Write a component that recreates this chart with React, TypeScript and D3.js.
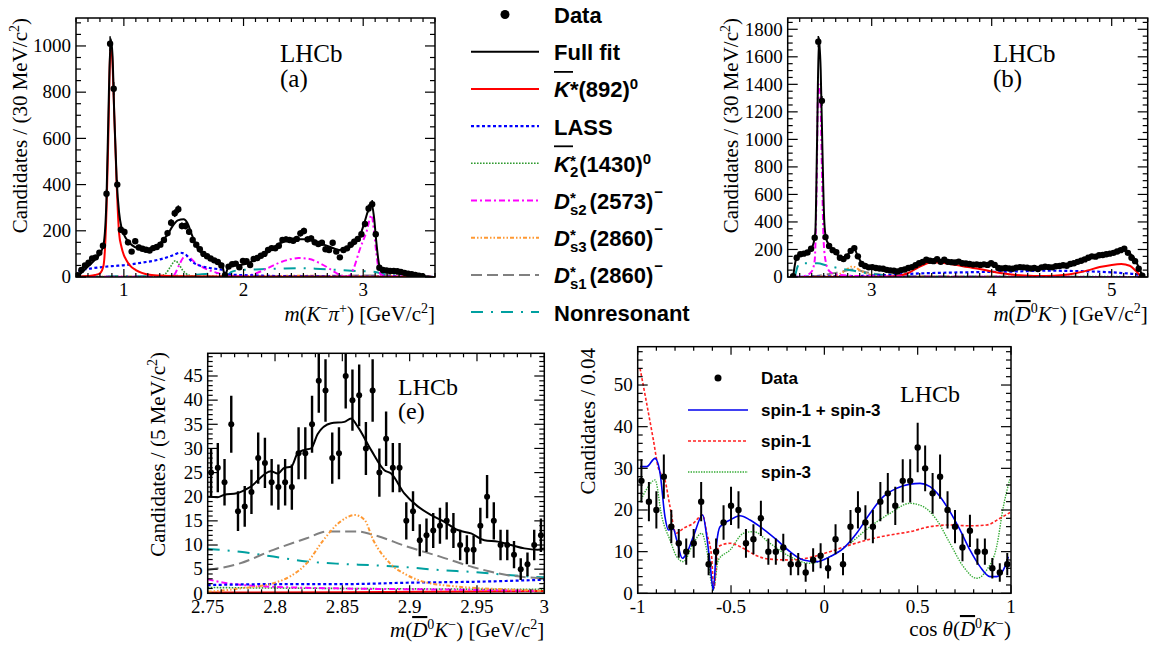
import React from "react";
import * as d3 from "d3";

type Pt = [number, number];
type Scale = d3.ScaleLinear<number, number>;

// ================= Panel (a): m(K- pi+) =================
const aBinLo = 0.6;
const aBinWidth = 0.03;
const aCounts = [
  8, 30, 50, 62, 80, 85, 105, 135, 360, 1010,
  815, 400, 205, 195, 150, 110, 155, 128, 122, 118,
  115, 125, 130, 140, 160, 190, 235, 276, 293, 221,
  221, 196, 160, 140, 120, 100, 90, 80, 72, 65,
  50, 8, 45, 55, 58, 42, 70, 68, 52, 78,
  82, 92, 100, 117, 125, 124, 135, 160, 163, 160,
  157, 165, 189, 199, 163, 167, 150, 143, 148, 120,
  117, 148, 110, 85, 117, 124, 140, 153, 165, 185,
  230, 297, 315, 185, 40, 30, 28, 26, 26, 25,
  22, 18, 14, 12, 9, 6, 4,
];
const aFit: Pt[] = [
  [0.61, 0], [0.65, 20], [0.7, 45], [0.75, 70], [0.8, 100], [0.83, 140], [0.855, 340], [0.875, 800],
  [0.89, 1030], [0.905, 960], [0.92, 700], [0.94, 420], [0.96, 280], [0.98, 215], [1.0, 185], [1.03, 158],
  [1.07, 137], [1.12, 124], [1.19, 120], [1.25, 130], [1.3, 145], [1.36, 180], [1.41, 222], [1.45, 245],
  [1.5, 250], [1.53, 235], [1.57, 180], [1.62, 120], [1.67, 95], [1.72, 80], [1.78, 68], [1.82, 55],
  [1.845, 5], [1.87, 40], [1.9, 48], [1.97, 52], [2.05, 62], [2.1, 78], [2.19, 102], [2.3, 145],
  [2.38, 160], [2.45, 163], [2.53, 163], [2.6, 153], [2.67, 140], [2.72, 131], [2.8, 117], [2.86, 122],
  [2.92, 140], [2.97, 175], [3.01, 235], [3.05, 300], [3.07, 318], [3.09, 260], [3.11, 150], [3.135, 50],
  [3.16, 32], [3.2, 27], [3.3, 23], [3.38, 17], [3.45, 8], [3.52, 3], [3.58, 0],
];
const aKst: Pt[] = [
  [0.62, 1], [0.7, 4], [0.76, 9], [0.8, 16], [0.83, 50], [0.855, 290], [0.87, 600], [0.885, 960],
  [0.895, 1000], [0.905, 920], [0.92, 700], [0.94, 400], [0.96, 190], [0.98, 130], [1.0, 95], [1.02, 74],
  [1.05, 50], [1.1, 30], [1.15, 18], [1.2, 11], [1.3, 6], [1.45, 3], [1.8, 2], [2.4, 1], [3.6, 0.5],
];
const aLass: Pt[] = [
  [0.61, 0], [0.63, 28], [0.7, 35], [0.8, 42], [0.9, 47], [1.02, 52], [1.15, 62], [1.3, 76],
  [1.4, 92], [1.47, 105], [1.51, 100], [1.57, 66], [1.62, 52], [1.66, 45], [1.73, 38], [1.8, 33],
  [1.83, 30], [1.85, 12], [1.9, 10], [2.0, 8], [2.2, 5], [2.5, 3], [3.0, 2], [3.58, 1],
];
const aK2: Pt[] = [
  [0.6, 0.5], [1.2, 1], [1.3, 3], [1.35, 15], [1.39, 45], [1.43, 70], [1.46, 55], [1.49, 30],
  [1.52, 15], [1.57, 5], [1.65, 2], [2.0, 1], [3.58, 0.5],
];
const aDs2: Pt[] = [
  [0.6, 0.5], [1.35, 1], [1.42, 10], [1.46, 50], [1.5, 85], [1.53, 90], [1.57, 75], [1.6, 60],
  [1.66, 42], [1.72, 28], [1.78, 18], [1.84, 8], [1.9, 4], [2.0, 3], [2.1, 15], [2.2, 38],
  [2.3, 62], [2.4, 78], [2.46, 82], [2.55, 78], [2.62, 64], [2.7, 42], [2.76, 22], [2.82, 6],
  [2.88, 3], [2.92, 37], [2.97, 117], [3.03, 200], [3.07, 268], [3.09, 200], [3.11, 103], [3.125, 45],
  [3.15, 10], [3.2, 4], [3.3, 2], [3.58, 0.5],
];
const aDs3: Pt[] = [[0.6, 1], [1.5, 3], [2.0, 4], [2.5, 5], [3.0, 4], [3.3, 6], [3.58, 2]];
const aDs1: Pt[] = [[0.6, 1], [1.5, 2], [2.5, 4], [3.2, 8], [3.35, 14], [3.45, 6], [3.58, 1]];
const aNr: Pt[] = [
  [0.6, 2], [1.0, 3], [1.5, 6], [1.65, 12], [1.75, 16], [1.84, 18], [1.86, 8], [1.9, 22],
  [1.97, 30], [2.1, 33], [2.3, 36], [2.45, 38], [2.6, 36], [2.75, 32], [2.9, 27], [3.0, 25],
  [3.1, 22], [3.2, 10], [3.35, 5], [3.58, 2],
];

// ================= Panel (b): m(D0bar K-) =================
const bBinLo = 2.3;
const bBinWidth = 0.03;
const bCounts = [
  0, 5, 140, 165, 170, 178, 205, 285, 1710, 1280,
  290, 225, 195, 180, 140, 130, 150, 190, 210, 150,
  95, 80, 70, 72, 65, 62, 60, 52, 48, 45,
  40, 50, 55, 65, 72, 85, 100, 110, 125, 118,
  115, 130, 110, 125, 110, 108, 105, 112, 100, 98,
  95, 90, 92, 88, 92, 88, 100, 88, 65, 62,
  65, 62, 60, 68, 72, 70, 68, 62, 65, 58,
  70, 75, 72, 70, 78, 80, 85, 82, 95, 100,
  110, 118, 128, 140, 150, 148, 158, 160, 165, 170,
  175, 185, 195, 205, 175, 140, 115, 60, 10,
];
const bFit: Pt[] = [
  [2.345, 0], [2.37, 130], [2.4, 165], [2.45, 178], [2.5, 210], [2.53, 320], [2.545, 1000], [2.56, 1740],
  [2.575, 1500], [2.59, 900], [2.605, 400], [2.62, 280], [2.65, 225], [2.7, 180], [2.74, 140], [2.78, 145],
  [2.82, 185], [2.85, 215], [2.88, 160], [2.92, 100], [2.97, 80], [3.05, 68], [3.15, 52], [3.22, 45],
  [3.3, 65], [3.4, 105], [3.48, 125], [3.55, 120], [3.7, 110], [3.85, 95], [4.0, 95], [4.03, 85],
  [4.07, 65], [4.2, 65], [4.4, 67], [4.55, 78], [4.7, 105], [4.85, 145], [5.0, 172], [5.1, 200],
  [5.14, 180], [5.2, 120], [5.24, 40], [5.27, 0],
];
const bDs2: Pt[] = [
  [2.36, 0], [2.45, 10], [2.5, 40], [2.525, 120], [2.54, 600], [2.555, 1400], [2.57, 1350], [2.585, 800],
  [2.6, 250], [2.62, 100], [2.65, 40], [2.7, 20], [2.8, 10], [3.0, 5], [3.5, 2], [5.27, 0],
];
const bNr: Pt[] = [
  [2.36, 0], [2.38, 70], [2.4, 100], [2.45, 100], [2.55, 100], [2.62, 85], [2.68, 73], [2.76, 58],
  [2.84, 48], [2.9, 36], [3.0, 22], [3.1, 12], [3.2, 6], [3.4, 3], [4.0, 2], [5.27, 0],
];
const bDs3: Pt[] = [
  [2.36, 0], [2.6, 3], [2.7, 10], [2.76, 35], [2.8, 60], [2.83, 75], [2.86, 72], [2.9, 50],
  [2.95, 28], [3.0, 15], [3.1, 8], [3.3, 4], [4.0, 2], [5.27, 0],
];
const bDs1: Pt[] = [
  [2.36, 0], [2.5, 5], [2.6, 15], [2.7, 30], [2.78, 45], [2.84, 55], [2.88, 50], [2.95, 35],
  [3.05, 20], [3.2, 10], [3.5, 5], [4.0, 3], [5.27, 0],
];
const bKst: Pt[] = [
  [2.36, 0], [3.0, 1], [3.2, 5], [3.3, 27], [3.4, 75], [3.5, 108], [3.6, 102], [3.7, 88],
  [3.8, 72], [3.9, 58], [4.0, 40], [4.1, 25], [4.2, 15], [4.35, 8], [4.45, 7], [4.6, 15],
  [4.7, 28], [4.8, 48], [4.9, 72], [5.0, 88], [5.08, 94], [5.15, 82], [5.2, 45], [5.24, 10], [5.27, 0],
];
const bLass: Pt[] = [
  [2.36, 0], [2.5, 3], [2.8, 5], [3.0, 10], [3.2, 18], [3.4, 26], [3.6, 31], [3.9, 36],
  [4.2, 40], [4.45, 46], [4.7, 43], [4.9, 38], [5.1, 28], [5.2, 20], [5.27, 0],
];
const bK2: Pt[] = [[2.36, 0], [3.0, 2], [4.0, 4], [5.0, 3], [5.27, 0]];

// ================= Panel (e): zoom 2.75-3.0 =================
const eBinLo = 2.75;
const eBinWidth = 0.005;
const eCounts = [
  25, 26, 23, 35, 17, 18, 21, 28, 27, 23,
  22, 23, 22, 29, 29, 35, 44, 42, 28, 29,
  45, 40, 41, 30, 42, 25, 32, 26, 26, 15,
  17, 11, 12, 13, 14, 15, 13, 10, 9, 9,
  14, 20, 15, 10, 10, 8, 5, 6, 10, 12,
];
const eFit: Pt[] = [
  [2.7503, 20], [2.7574, 19.9], [2.7624, 20.4], [2.7715, 20.7], [2.7814, 22], [2.797, 25.3], [2.802, 24.8],
  [2.807, 26], [2.812, 26.2], [2.8168, 29], [2.8218, 29.7], [2.8268, 30], [2.8317, 33], [2.8416, 35.2],
  [2.8515, 35.5], [2.8565, 36.2], [2.8614, 34.5], [2.8713, 29.7], [2.8812, 25.5], [2.8862, 24.8],
  [2.896, 20.7], [2.906, 18], [2.916, 16.2], [2.9258, 14.8], [2.9357, 13.1], [2.9456, 12.4], [2.9555, 11],
  [2.9654, 10.7], [2.9753, 10], [2.9852, 9.3], [2.995, 9], [2.9997, 9.3],
];
const eDs1: Pt[] = [
  [2.75, 4.8], [2.774, 6.2], [2.7988, 9], [2.8235, 11.4], [2.8384, 12.8], [2.8607, 12.8], [2.873, 12.1],
  [2.8978, 9.7], [2.9226, 7.6], [2.9473, 5.4], [2.9721, 3.8], [3.0, 3.1],
];
const eDs3: Pt[] = [
  [2.75, 0.3], [2.774, 1.0], [2.7988, 2.1], [2.8112, 3.5], [2.8235, 6.2], [2.8359, 11], [2.8483, 14.8],
  [2.8594, 16.2], [2.8665, 15.2], [2.873, 11], [2.8854, 6.2], [2.8978, 3.8], [2.9102, 2.4], [2.935, 1.4],
  [2.9721, 0.8], [3.0, 0.5],
];
const eNr: Pt[] = [
  [2.75, 9.2], [2.774, 8.6], [2.7988, 7.6], [2.8235, 6.6], [2.8483, 6.1], [2.873, 5.8], [2.8978, 5.4],
  [2.9226, 4.8], [2.9473, 4.4], [2.9721, 3.8], [3.0, 3.3],
];
const eLass: Pt[] = [[2.75, 1.7], [2.8, 1.9], [2.85, 1.9], [2.9, 2.2], [2.95, 2.4], [3.0, 2.8]];
const eDs2: Pt[] = [[2.75, 2.9], [2.762, 2.2], [2.787, 1.5], [2.85, 1.0], [2.92, 0.8], [3.0, 0.5]];
const eK2: Pt[] = [[2.75, 1.2], [2.85, 1.0], [3.0, 0.8]];
const eKst: Pt[] = [[2.75, 0.15], [2.85, 0.2], [3.0, 0.5]];

// ================= Panel (d): cos theta =================
const dBinLo = -1;
const dBinWidth = 0.04;
const dCounts = [
  27, 22, 20, 28, 16, 12, 10, 12, 22, 7,
  10, 17, 21, 20, 12, 13, 18, 10, 10, 11,
  7, 7, 5, 8, 9, 6, 13, 7, 16, 20,
  17, 16, 22, 24, 21, 27, 27, 35, 30, 24,
  28, 20, 16, 11, 15, 10, 10, 6, 5, 7,
];
const dBoth: Pt[] = [
  [-0.9875, 30.4], [-0.952, 30.4], [-0.907, 32.4], [-0.88, 28.8], [-0.854, 18.4], [-0.836, 15.2],
  [-0.809, 15.4], [-0.791, 12.8], [-0.761, 8.4], [-0.7375, 9.6], [-0.702, 13.6], [-0.652, 18.8],
  [-0.63, 13.6], [-0.6125, 7.2], [-0.595, 0.8], [-0.577, 12], [-0.559, 16], [-0.505, 17.6],
  [-0.452, 18.6], [-0.398, 17.6], [-0.327, 15.4], [-0.255, 12.8], [-0.184, 10], [-0.1125, 8],
  [-0.041, 7.6], [0.03, 8.8], [0.102, 10.8], [0.173, 14.4], [0.245, 19.2], [0.316, 23.2],
  [0.3875, 25.2], [0.459, 26.2], [0.5125, 26.4], [0.566, 25.6], [0.62, 23.2], [0.673, 19.6],
  [0.727, 15.2], [0.78, 10.4], [0.834, 6.4], [0.8875, 4.0], [0.923, 4.0], [0.959, 5.6], [0.986, 8.8],
];
const dSpin1: Pt[] = [
  [-0.9875, 54], [-0.952, 45.6], [-0.916, 36.8], [-0.889, 30], [-0.854, 27.2], [-0.827, 20.8],
  [-0.795, 14.4], [-0.755, 15.6], [-0.702, 16.8], [-0.652, 18.8], [-0.63, 14.4], [-0.604, 8.8],
  [-0.5925, 1.2], [-0.568, 11.2], [-0.505, 12], [-0.434, 10.8], [-0.3625, 9], [-0.291, 8.2],
  [-0.184, 8], [-0.077, 8.6], [0.03, 10], [0.1375, 11.6], [0.245, 13], [0.352, 14], [0.459, 14.8],
  [0.566, 16], [0.673, 16.4], [0.78, 16.2], [0.87, 16.4], [0.941, 18], [0.995, 19.4],
];
const dSpin3: Pt[] = [
  [-0.9875, 22], [-0.952, 25], [-0.907, 27.2], [-0.871, 18.4], [-0.827, 12.8], [-0.791, 8.8],
  [-0.755, 7.6], [-0.702, 12], [-0.657, 14.4], [-0.63, 10.4], [-0.595, 0.8], [-0.568, 8],
  [-0.505, 10.4], [-0.434, 14.4], [-0.38, 14.8], [-0.291, 12], [-0.184, 8.8], [-0.077, 7.2],
  [0.03, 8.8], [0.1375, 12], [0.245, 16], [0.352, 19.2], [0.459, 21.6], [0.53, 20.8], [0.602, 17.6],
  [0.673, 12], [0.745, 6.4], [0.816, 3.6], [0.87, 5.6], [0.923, 11.2], [0.959, 20.8], [0.995, 27.6],
];

// ================= styles =================
const SERIF = '"Liberation Serif","Times New Roman",Times,serif';
const SANS = '"Liberation Sans",Arial,Helvetica,sans-serif';

type Sty = { c: string; w: number; d?: string };
const STY: Record<string, Sty> = {
  full: { c: "#000000", w: 2 },
  kst: { c: "#ff0000", w: 2 },
  lass: { c: "#0000ff", w: 2.2, d: "3 2.5" },
  k2: { c: "#2f9a2f", w: 1.6, d: "1.6 1.4" },
  ds2: { c: "#ff00ff", w: 2, d: "6 3 2 3" },
  ds3: { c: "#ff9933", w: 2, d: "4 2 1.5 2 1.5 2" },
  ds1: { c: "#808080", w: 2, d: "11 5" },
  nr: { c: "#00a0a0", w: 2, d: "12 8 2 8" },
  both: { c: "#0000ee", w: 1.6 },
  spin1: { c: "#ff2222", w: 1.6, d: "3 2" },
  spin3: { c: "#33aa33", w: 1.4, d: "1.4 1.2" },
};

const stepTicks = (lo: number, hi: number, step: number) => {
  const i0 = Math.ceil(lo / step - 1e-6);
  const i1 = Math.floor(hi / step + 1e-6);
  return d3.range(i0, i1 + 1).map((i) => +(i * step).toFixed(6));
};

const binCenters = (lo: number, w: number, n: number) => d3.range(n).map((i) => lo + w * (i + 0.5));

function Curve({ pts, x, y, s }: { pts: Pt[]; x: Scale; y: Scale; s: Sty }) {
  const line = d3
    .line<Pt>()
    .x((d) => x(d[0]))
    .y((d) => y(d[1]))
    .curve(d3.curveMonotoneX);
  return (
    <path d={line(pts) || ""} fill="none" stroke={s.c} strokeWidth={s.w} strokeDasharray={s.d} strokeLinejoin="round" />
  );
}

function DataPts({
  xs, ys, x, y, r, ew,
}: { xs: number[]; ys: number[]; x: Scale; y: Scale; r: number; ew: number }) {
  return (
    <g>
      {ys.map((v, i) =>
        v <= 0 ? null : (
          <g key={i}>
            <line x1={x(xs[i])} x2={x(xs[i])} y1={y(v + Math.sqrt(v))} y2={y(Math.max(0, v - Math.sqrt(v)))} stroke="#000" strokeWidth={ew} />
            <circle cx={x(xs[i])} cy={y(v)} r={r} fill="#000" />
          </g>
        )
      )}
    </g>
  );
}

type PanelProps = {
  id: string;
  L: number; T: number; R: number; B: number;
  xd: [number, number]; yd: [number, number];
  xLab: number[]; xMinStep: number; yLab: number[]; yMinStep: number;
  labBase: number;
  render: (x: Scale, y: Scale) => React.ReactNode;
};

function Panel(p: PanelProps) {
  const x = d3.scaleLinear().domain(p.xd).range([p.L, p.R]);
  const y = d3.scaleLinear().domain(p.yd).range([p.B, p.T]);
  const xMin = stepTicks(p.xd[0], p.xd[1], p.xMinStep);
  const yMin = stepTicks(p.yd[0], p.yd[1], p.yMinStep);
  const isMaj = (arr: number[], v: number) => arr.some((a) => Math.abs(a - v) < 1e-6);
  return (
    <g>
      <defs>
        <clipPath id={p.id}>
          <rect x={p.L} y={p.T} width={p.R - p.L} height={p.B - p.T} />
        </clipPath>
      </defs>
      <g clipPath={`url(#${p.id})`}>{p.render(x, y)}</g>
      <rect x={p.L} y={p.T} width={p.R - p.L} height={p.B - p.T} fill="none" stroke="#000" strokeWidth={1.5} />
      {xMin.map((v, i) => {
        const len = isMaj(p.xLab, v) ? 8 : 4;
        return (
          <g key={"xt" + i}>
            <line x1={x(v)} x2={x(v)} y1={p.B} y2={p.B - len} stroke="#000" strokeWidth={1.2} />
            <line x1={x(v)} x2={x(v)} y1={p.T} y2={p.T + len} stroke="#000" strokeWidth={1.2} />
          </g>
        );
      })}
      {yMin.map((v, i) => {
        const len = isMaj(p.yLab, v) ? 10 : 5;
        return (
          <g key={"yt" + i}>
            <line x1={p.L} x2={p.L + len} y1={y(v)} y2={y(v)} stroke="#000" strokeWidth={1.2} />
            <line x1={p.R} x2={p.R - len} y1={y(v)} y2={y(v)} stroke="#000" strokeWidth={1.2} />
          </g>
        );
      })}
      {p.xLab.map((v, i) => (
        <text key={"xl" + i} x={x(v)} y={p.B + p.labBase} textAnchor="middle" fontFamily={SERIF} fontSize={19}>
          {String(v)}
        </text>
      ))}
      {p.yLab.map((v, i) => (
        <text key={"yl" + i} x={p.L - 5} y={y(v)} dy="0.33em" textAnchor="end" fontFamily={SERIF} fontSize={19}>
          {String(v)}
        </text>
      ))}
    </g>
  );
}

function DKTitle({ x, y }: { x: number; y: number }) {
  return (
    <text x={x} y={y} textAnchor="end" fontFamily={SERIF} fontSize={21}>
      <tspan fontStyle="italic">m</tspan>
      <tspan>(</tspan>
      <tspan fontStyle="italic" style={{ textDecoration: "overline" }}>D</tspan>
      <tspan dy={-8} fontSize={14}>0</tspan>
      <tspan dy={8} fontStyle="italic">K</tspan>
      <tspan dy={-8} fontSize={14}>−</tspan>
      <tspan dy={8}>) [GeV/c</tspan>
      <tspan dy={-8} fontSize={14}>2</tspan>
      <tspan dy={8}>]</tspan>
    </text>
  );
}

function YTitle({ x, y, mev }: { x: number; y: number; mev: string }) {
  return (
    <text transform={`translate(${x},${y}) rotate(-90)`} textAnchor="end" fontFamily={SERIF} fontSize={21}>
      <tspan>{`Candidates / (${mev} MeV/c`}</tspan>
      <tspan dy={-8} fontSize={14}>2</tspan>
      <tspan dy={8}>)</tspan>
    </text>
  );
}

function LegendLine({ x1, x2, y, s }: { x1: number; x2: number; y: number; s: Sty }) {
  return <line x1={x1} x2={x2} y1={y} y2={y} stroke={s.c} strokeWidth={s.w} strokeDasharray={s.d} />;
}

function MainLegend() {
  const lx1 = 471, lx2 = 539, tx = 554;
  const rowY = (i: number) => 14.5 + 37.2 * i;
  const base = (i: number) => rowY(i) + 8.5;
  const fs = 22;
  const tp = { fontFamily: SANS, fontWeight: "bold" as const, fontSize: fs };
  const dRow = (i: number, sub: string, s: Sty, mass: string) => (
    <g key={"dr" + i}>
      <LegendLine x1={lx1} x2={lx2} y={rowY(i)} s={s} />
      <text x={tx} y={base(i)} {...tp}>
        <tspan fontStyle="italic">D</tspan>
        <tspan dy={-6} fontSize={15}>*</tspan>
        <tspan dx={-5.8} dy={12} fontSize={15}>{sub}</tspan>
        <tspan dx={3} dy={-6}>{mass}</tspan>
        <tspan dx={1} dy={-12} fontSize={15}>−</tspan>
      </text>
    </g>
  );
  return (
    <g>
      <circle cx={505} cy={rowY(0)} r={4.5} fill="#000" />
      <text x={tx} y={base(0)} {...tp}>Data</text>

      <LegendLine x1={lx1} x2={lx2} y={rowY(1)} s={STY.full} />
      <text x={tx} y={base(1)} {...tp}>Full fit</text>

      <LegendLine x1={lx1} x2={lx2} y={rowY(2)} s={STY.kst} />
      <line x1={tx} x2={tx + 19} y1={rowY(2) - 17} y2={rowY(2) - 17} stroke="#000" strokeWidth={1.8} />
      <text x={tx} y={base(2)} {...tp}>
        <tspan fontStyle="italic">K</tspan>
        <tspan>*(892)</tspan>
        <tspan dy={-8} fontSize={15}>0</tspan>
      </text>

      <LegendLine x1={lx1} x2={lx2} y={rowY(3)} s={STY.lass} />
      <text x={tx} y={base(3)} {...tp}>LASS</text>

      <LegendLine x1={lx1} x2={lx2} y={rowY(4)} s={STY.k2} />
      <line x1={tx} x2={tx + 19} y1={rowY(4) - 17} y2={rowY(4) - 17} stroke="#000" strokeWidth={1.8} />
      <text x={tx} y={base(4)} {...tp}>
        <tspan fontStyle="italic">K</tspan>
        <tspan dy={-6} fontSize={15}>*</tspan>
        <tspan dx={-5.8} dy={11} fontSize={15}>2</tspan>
        <tspan dx={1} dy={-5}>(1430)</tspan>
        <tspan dy={-8} fontSize={15}>0</tspan>
      </text>

      {dRow(5, "s2", STY.ds2, "(2573)")}
      {dRow(6, "s3", STY.ds3, "(2860)")}
      {dRow(7, "s1", STY.ds1, "(2860)")}

      <LegendLine x1={lx1} x2={lx2} y={rowY(8)} s={STY.nr} />
      <text x={tx} y={base(8)} {...tp}>Nonresonant</text>
    </g>
  );
}

function CosLegend() {
  const tp = { fontFamily: SANS, fontWeight: "bold" as const, fontSize: 17 };
  return (
    <g>
      <circle cx={718} cy={378} r={3.5} fill="#000" />
      <text x={761} y={384} {...tp}>Data</text>
      <LegendLine x1={688} x2={748} y={410} s={STY.both} />
      <text x={761} y={416} {...tp}>spin-1 + spin-3</text>
      <LegendLine x1={688} x2={748} y={441} s={STY.spin1} />
      <text x={761} y={447} {...tp}>spin-1</text>
      <LegendLine x1={688} x2={748} y={472} s={STY.spin3} />
      <text x={761} y={478} {...tp}>spin-3</text>
    </g>
  );
}

export default function App() {
  const aX = binCenters(aBinLo, aBinWidth, aCounts.length);
  const bX = binCenters(bBinLo, bBinWidth, bCounts.length);
  const eX = binCenters(eBinLo, eBinWidth, eCounts.length);
  const dX = binCenters(dBinLo, dBinWidth, dCounts.length);
  return (
    <svg width={1163} height={646} style={{ position: "fixed", left: 0, top: 0, background: "#fff" }}>
      <rect x={0} y={0} width={1163} height={646} fill="#fff" />

      {/* (a) */}
      <Panel
        id="clipA" L={76} T={18} R={435} B={277}
        xd={[0.6, 3.6]} yd={[0, 1121]}
        xLab={[1, 2, 3]} xMinStep={0.1} yLab={stepTicks(0, 1000, 200)} yMinStep={50} labBase={19}
        render={(x, y) => (
          <g>
            <Curve pts={aDs3} x={x} y={y} s={STY.ds3} />
            <Curve pts={aDs1} x={x} y={y} s={STY.ds1} />
            <Curve pts={aNr} x={x} y={y} s={STY.nr} />
            <Curve pts={aK2} x={x} y={y} s={STY.k2} />
            <Curve pts={aDs2} x={x} y={y} s={STY.ds2} />
            <Curve pts={aLass} x={x} y={y} s={STY.lass} />
            <Curve pts={aKst} x={x} y={y} s={STY.kst} />
            <Curve pts={aFit} x={x} y={y} s={STY.full} />
            <DataPts xs={aX} ys={aCounts} x={x} y={y} r={3.2} ew={1.5} />
          </g>
        )}
      />
      <YTitle x={27} y={18} mev="30" />
      <text x={435} y={321} textAnchor="end" fontFamily={SERIF} fontSize={21}>
        <tspan fontStyle="italic">m</tspan>
        <tspan>(</tspan>
        <tspan fontStyle="italic">K</tspan>
        <tspan dy={-8} fontSize={14}>−</tspan>
        <tspan dy={8} fontStyle="italic">π</tspan>
        <tspan dy={-8} fontSize={14}>+</tspan>
        <tspan dy={8}>) [GeV/c</tspan>
        <tspan dy={-8} fontSize={14}>2</tspan>
        <tspan dy={8}>]</tspan>
      </text>
      <text x={280} y={62} fontFamily={SERIF} fontSize={25}>LHCb</text>
      <text x={280} y={87} fontFamily={SERIF} fontSize={25}>(a)</text>

      {/* legend */}
      <MainLegend />

      {/* (b) */}
      <Panel
        id="clipB" L={787.7} T={18} R={1147.7} B={277}
        xd={[2.3, 5.3]} yd={[0, 1882]}
        xLab={[3, 4, 5]} xMinStep={0.1} yLab={stepTicks(0, 1800, 200)} yMinStep={50} labBase={19}
        render={(x, y) => (
          <g>
            <Curve pts={bK2} x={x} y={y} s={STY.k2} />
            <Curve pts={bDs1} x={x} y={y} s={STY.ds1} />
            <Curve pts={bDs3} x={x} y={y} s={STY.ds3} />
            <Curve pts={bNr} x={x} y={y} s={STY.nr} />
            <Curve pts={bLass} x={x} y={y} s={STY.lass} />
            <Curve pts={bKst} x={x} y={y} s={STY.kst} />
            <Curve pts={bDs2} x={x} y={y} s={STY.ds2} />
            <Curve pts={bFit} x={x} y={y} s={STY.full} />
            <DataPts xs={bX} ys={bCounts} x={x} y={y} r={3.2} ew={1.5} />
          </g>
        )}
      />
      <YTitle x={738} y={18} mev="30" />
      <DKTitle x={1147.7} y={321} />
      <text x={993} y={62} fontFamily={SERIF} fontSize={25}>LHCb</text>
      <text x={993} y={87} fontFamily={SERIF} fontSize={25}>(b)</text>

      {/* (e) */}
      <Panel
        id="clipE" L={207.7} T={353.3} R={544.3} B={593.3}
        xd={[2.75, 3.0]} yd={[0, 49.7]}
        xLab={stepTicks(2.75, 3.0, 0.05)} xMinStep={0.01} yLab={stepTicks(0, 45, 5)} yMinStep={1} labBase={19.5}
        render={(x, y) => (
          <g>
            <Curve pts={eKst} x={x} y={y} s={STY.kst} />
            <Curve pts={eK2} x={x} y={y} s={STY.k2} />
            <Curve pts={eDs2} x={x} y={y} s={STY.ds2} />
            <Curve pts={eLass} x={x} y={y} s={STY.lass} />
            <Curve pts={eNr} x={x} y={y} s={STY.nr} />
            <Curve pts={eDs1} x={x} y={y} s={STY.ds1} />
            <Curve pts={eDs3} x={x} y={y} s={STY.ds3} />
            <Curve pts={eFit} x={x} y={y} s={STY.full} />
            <DataPts xs={eX} ys={eCounts} x={x} y={y} r={3} ew={2.4} />
          </g>
        )}
      />
      <YTitle x={165} y={352} mev="5" />
      <DKTitle x={544.3} y={637} />
      <text x={398} y={395} fontFamily={SERIF} fontSize={24}>LHCb</text>
      <text x={398} y={419} fontFamily={SERIF} fontSize={24}>(e)</text>

      {/* (d) cos theta */}
      <Panel
        id="clipD" L={637.7} T={346.7} R={1011} B={593.3}
        xd={[-1, 1]} yd={[0, 59.2]}
        xLab={stepTicks(-1, 1, 0.5)} xMinStep={0.1} yLab={stepTicks(0, 50, 10)} yMinStep={2} labBase={19.5}
        render={(x, y) => (
          <g>
            <Curve pts={dSpin3} x={x} y={y} s={STY.spin3} />
            <Curve pts={dSpin1} x={x} y={y} s={STY.spin1} />
            <Curve pts={dBoth} x={x} y={y} s={STY.both} />
            <DataPts xs={dX} ys={dCounts} x={x} y={y} r={3.2} ew={2} />
          </g>
        )}
      />
      <text transform="translate(595,348) rotate(-90)" textAnchor="end" fontFamily={SERIF} fontSize={21}>
        Candidates / 0.04
      </text>
      <text x={1011} y={636} textAnchor="end" fontFamily={SERIF} fontSize={21}>
        <tspan>cos </tspan>
        <tspan fontStyle="italic">θ</tspan>
        <tspan>(</tspan>
        <tspan fontStyle="italic" style={{ textDecoration: "overline" }}>D</tspan>
        <tspan dy={-8} fontSize={14}>0</tspan>
        <tspan dy={8} fontStyle="italic">K</tspan>
        <tspan dy={-8} fontSize={14}>−</tspan>
        <tspan dy={8}>)</tspan>
      </text>
      <text x={900} y={402} fontFamily={SERIF} fontSize={24}>LHCb</text>
      <CosLegend />
    </svg>
  );
}
